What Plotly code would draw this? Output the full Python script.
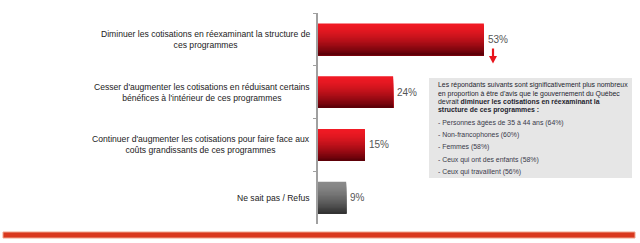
import plotly.graph_objects as go

# ---------------- data ----------------
categories = [
    "Diminuer les cotisations en réexaminant la structure de<br>ces programmes",
    "Cesser d'augmenter les cotisations en réduisant certains<br>bénéfices à l'intérieur de ces programmes",
    "Continuer d'augmenter les cotisations pour faire face aux<br>coûts grandissants de ces programmes",
    "Ne sait pas / Refus",
]
values = [53, 24, 15, 9]
value_labels = ["53%", "24%", "15%", "9%"]
bar_kind = ["red", "red", "red", "grey"]

box_lines = [
    "Les répondants suivants sont significativement plus nombreux",
    "en proportion à être d'avis que le gouvernement du Québec",
    "devrait <b>diminuer les cotisations en réexaminant la</b>",
    "<b>structure de ces programmes :</b>",
]
box_bullets = [
    "- Personnes âgées de 35 à 44 ans (64%)",
    "- Non-francophones (60%)",
    "- Femmes (58%)",
    "- Ceux qui ont des enfants (58%)",
    "- Ceux qui travaillent (56%)",
]

# ---------------- layout helpers ----------------
W, H = 640, 243
L, T, R, B = 318, 13, 9, 19
PW, PH = W - L - R, H - T - B


def px(x):
    return (x - L) / PW


def py(y):
    return (H - B - y) / PH


def hex2rgb(h):
    h = h.lstrip("#")
    return [int(h[i:i + 2], 16) for i in (0, 2, 4)]


def mix(c1, c2, t):
    a, b = hex2rgb(c1), hex2rgb(c2)
    return "rgb(%d,%d,%d)" % tuple(round(a[i] + (b[i] - a[i]) * t) for i in range(3))


grad = {"red": ("#f01a24", "#5e0008"), "grey": ("#8a8a8a", "#333333")}

fig = go.Figure()

# gradient bars: stacked overlays, each starting lower and running to the bar bottom
N = 24
bw = 0.6
sw = bw / N
for k in range(N):
    t = k / (N - 1)
    tt = t ** 1.5
    cols = [mix(grad[kind][0], grad[kind][1], tt) for kind in bar_kind]
    fig.add_trace(go.Bar(
        x=values, y=categories, orientation="h",
        width=bw - k * sw, offset=-bw / 2 + k * sw,
        marker=dict(color=cols, line=dict(width=0)),
        hoverinfo="skip", showlegend=False,
    ))

annotations = []
# category labels
for c in categories:
    annotations.append(dict(
        x=px(312), xref="paper", y=c, yref="y", text=c,
        showarrow=False, xanchor="right", yanchor="middle", align="center",
        font=dict(family="Liberation Sans", size=8.6, color="#222222"),
    ))
# value labels
for v, lab, c in zip(values, value_labels, categories):
    annotations.append(dict(
        x=v, xref="x", y=c, yref="y", text=lab, showarrow=False,
        xanchor="left", yanchor="middle", xshift=2,
        font=dict(family="Liberation Sans", size=10, color="#555555"),
    ))

# box text
line_y = [85, 93.5, 101.5, 109.5]
for txt, yy in zip(box_lines, line_y):
    annotations.append(dict(
        x=px(436), xref="paper", y=py(yy), yref="paper", text=txt,
        showarrow=False, xanchor="left", yanchor="middle",
        font=dict(family="Liberation Sans", size=6.9, color="#1e1e2e"),
    ))
bullet_y = [122.5, 135, 147, 159.5, 172]
for txt, yy in zip(box_bullets, bullet_y):
    annotations.append(dict(
        x=px(436), xref="paper", y=py(yy), yref="paper", text=txt,
        showarrow=False, xanchor="left", yanchor="middle",
        font=dict(family="Liberation Sans", size=6.9, color="#3a3a4a"),
    ))

ax_c = 493
arrow_path = "M {:.4f},{:.4f} L {:.4f},{:.4f} L {:.4f},{:.4f} Z".format(
    px(ax_c - 4), py(56), px(ax_c + 4), py(56), px(ax_c), py(63.5))

shapes = [
    dict(type="rect", xref="paper", yref="paper",
         x0=px(429), x1=px(632), y0=py(178), y1=py(78),
         fillcolor="#e6e6e6", line=dict(width=0), layer="below"),
    dict(type="rect", xref="paper", yref="paper",
         x0=px(3), x1=px(635), y0=py(238), y1=py(232),
         fillcolor="#d9381e", line=dict(color="#f0a38c", width=1)),
    # red arrow under the top bar value
    dict(type="line", xref="paper", yref="paper",
         x0=px(ax_c), x1=px(ax_c), y0=py(48.5), y1=py(57),
         line=dict(color="#e8141c", width=2.2)),
    dict(type="path", xref="paper", yref="paper", path=arrow_path,
         fillcolor="#e8141c", line=dict(width=0)),
]

fig.update_layout(
    width=W, height=H,
    margin=dict(l=L, r=R, t=T, b=B, pad=0),
    paper_bgcolor="white", plot_bgcolor="white",
    barmode="overlay",
    xaxis=dict(range=[0, 100], visible=False, fixedrange=True),
    yaxis=dict(
        type="category", range=[3.5, -0.5], showticklabels=False,
        showline=True, linecolor="#a0a0a0", linewidth=1.5,
        ticks="outside", ticklen=3, tickcolor="#a0a0a0", tickwidth=1,
        tickson="boundaries", showgrid=False, zeroline=False,
    ),
    annotations=annotations,
    shapes=shapes,
    showlegend=False,
)

fig.write_html("out.html")
